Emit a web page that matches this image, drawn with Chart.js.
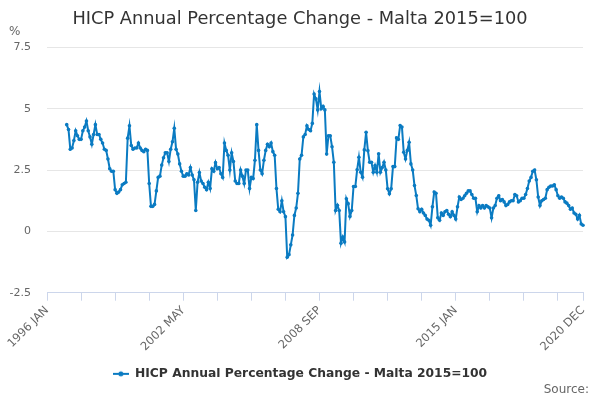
<!DOCTYPE html>
<html>
<head>
<meta charset="utf-8">
<title>HICP Annual Percentage Change - Malta 2015=100</title>
<script src="https://cdn.jsdelivr.net/npm/chart.js@4/dist/chart.umd.min.js"></script>
<style>
  html, body { margin: 0; padding: 0; background: #fff; }
</style>
</head>
<body>
<canvas id="chart" width="600" height="400"></canvas>
<script>
// monthly categories, 1996 JAN .. 2020 DEC
const years = []
for (let y = 1996; y <= 2020; y++) years.push(y)
const monthNames = ['JAN', 'FEB', 'MAR', 'APR', 'MAY', 'JUN', 'JUL', 'AUG', 'SEP', 'OCT', 'NOV', 'DEC']
const labels = []
years.forEach(y => monthNames.forEach(m => labels.push(`${y} ${m}`)))

// annual % change, one row per year
const values = [
  null, null, null, null, null, null, null, null, null, null, null, 4.35,
  4.15, 3.35, 3.4, 3.7, 4.1, 3.9, 3.75, 3.75, 4.1, 4.25, 4.5, 4.1,
  3.85, 3.55, 3.95, 4.35, 3.95, 3.95, 3.75, 3.6, 3.35, 3.3, 2.95, 2.55,
  2.45, 2.45, 1.7, 1.55, 1.6, 1.7, 1.9, 1.95, 2.0, 3.8, 4.3, 3.5,
  3.35, 3.4, 3.4, 3.6, 3.4, 3.3, 3.25, 3.35, 3.3, 1.95, 1.02, 1.02,
  1.1, 1.65, 2.2, 2.25, 2.7, 3.0, 3.2, 3.2, 2.85, 3.35, 3.65, 4.2,
  3.35, 3.15, 2.75, 2.45, 2.25, 2.25, 2.35, 2.3, 2.6, 2.3, 2.1, 0.85,
  2.0, 2.4, 2.05, 1.95, 1.8, 1.7, 2.0, 1.75, 2.55, 2.45, 2.8, 2.55,
  2.6, 2.35, 2.2, 3.6, 3.3, 3.1, 2.5, 3.2, 2.85, 2.05, 1.95, 1.95,
  2.5, 2.25, 1.95, 2.5, 2.5, 1.75, 2.2, 2.15, 2.9, 4.35, 3.3, 2.5,
  2.35, 2.9, 3.3, 3.55, 3.45, 3.6, 3.25, 3.1, 1.75, 0.9, 0.8, 1.25,
  0.8, 0.6, -1.05, -0.95, -0.55, -0.15, 0.65, 0.95, 1.55, 2.95, 3.1, 3.85,
  3.95, 4.3, 4.15, 4.1, 4.4, 5.6, 5.4, 4.95, 5.7, 5.0, 5.1, 4.95,
  3.15, 3.9, 3.9, 3.45, 2.82, 0.85, 1.06, 0.85, -0.48, -0.23, -0.43, 1.33,
  1.13, 0.61, 0.85, 1.83, 1.83, 2.51, 3.02, 2.41, 2.21, 3.32, 4.04, 3.29,
  2.82, 2.82, 2.41, 2.68, 2.41, 3.16, 2.41, 2.6, 2.82, 2.5, 1.74, 1.53,
  1.74, 2.64, 2.64, 3.81, 3.75, 4.31, 4.25, 3.22, 2.95, 3.3, 3.63, 2.75,
  2.5, 1.87, 1.46, 0.92, 0.8, 0.9, 0.75, 0.65, 0.5, 0.45, 0.25, 1.0,
  1.6, 1.55, 0.55, 0.45, 0.75, 0.65, 0.8, 0.85, 0.7, 0.6, 0.8, 0.65,
  0.5, 1.0, 1.4, 1.3, 1.35, 1.45, 1.55, 1.65, 1.65, 1.5, 1.35, 1.35,
  0.8, 1.05, 0.95, 1.05, 0.95, 1.05, 1.0, 0.95, 0.55, 0.95, 1.05, 1.35,
  1.45, 1.25, 1.3, 1.2, 1.05, 1.1, 1.2, 1.25, 1.25, 1.5, 1.45, 1.2,
  1.25, 1.35, 1.35, 1.5, 1.75, 2.05, 2.2, 2.45, 2.5, 2.1, 1.4, 1.05,
  1.25, 1.3, 1.35, 1.7, 1.8, 1.85, 1.85, 1.9, 1.7, 1.45, 1.35, 1.4,
  1.35, 1.2, 1.15, 1.05, 0.9, 0.95, 0.75, 0.7, 0.5, 0.65, 0.3, 0.25
]

const seriesName = 'HICP Annual Percentage Change - Malta 2015=100'
const lineColor = '#0a7bc2'

Chart.defaults.font.family = '"DejaVu Sans", sans-serif'

// legend symbol: short line with a dot, like the reference
const legendIcon = document.createElement('canvas')
legendIcon.width = 16
legendIcon.height = 8
{
  const c = legendIcon.getContext('2d')
  c.strokeStyle = lineColor
  c.lineWidth = 2
  c.beginPath()
  c.moveTo(0, 4)
  c.lineTo(16, 4)
  c.stroke()
  c.fillStyle = lineColor
  c.beginPath()
  c.arc(8, 4, 2.5, 0, Math.PI * 2)
  c.fill()
}

// "%" unit above the value axis and the "Source:" credit bottom right
const extraText = {
  id: 'extraText',
  afterDraw(chart) {
    const ctx = chart.ctx
    ctx.save()
    ctx.fillStyle = '#666'
    ctx.textBaseline = 'middle'
    ctx.font = '12px "DejaVu Sans", sans-serif'
    ctx.textAlign = 'left'
    ctx.fillText('%', 9, 32)
    ctx.textAlign = 'right'
    ctx.fillText('Source:', 589, 390)
    ctx.restore()
  }
}

new Chart(document.getElementById('chart'), {
  type: 'line',
  data: {
    labels: labels,
    datasets: [{
      label: seriesName,
      data: values,
      borderColor: lineColor,
      backgroundColor: lineColor,
      borderWidth: 2,
      pointRadius: 1.8,
      pointBorderWidth: 0,
      tension: 0
    }]
  },
  options: {
    responsive: false,
    animation: false,
    layout: { padding: { left: 0, right: 0, top: 0, bottom: 10 } },
    plugins: {
      title: {
        display: true,
        text: seriesName,
        color: '#333',
        font: { size: 17.8, weight: 'normal' },
        padding: { top: 9, bottom: 17 }
      },
      legend: {
        position: 'bottom',
        labels: {
          usePointStyle: true,
          pointStyleWidth: 16,
          color: '#333',
          font: { size: 12.3, weight: 'bold' },
          padding: 3,
          generateLabels(chart) {
            const items = Chart.defaults.plugins.legend.labels.generateLabels(chart)
            items.forEach(item => { item.pointStyle = legendIcon })
            return items
          }
        }
      },
      tooltip: { enabled: false }
    },
    scales: {
      x: {
        grid: { drawOnChartArea: false, color: '#ccd6eb', tickLength: 8 },
        border: { color: '#ccd6eb' },
        ticks: {
          autoSkip: false,
          minRotation: 45,
          maxRotation: 45,
          color: '#666',
          font: { size: 11.5 },
          callback(value, i) {
            if (i % 76 === 0 || i === labels.length - 1) return labels[i]
            if (i % 19 === 0) return ''
            return null
          }
        },
        afterFit(scale) { scale.height = 72 }
      },
      y: {
        min: -2.5,
        max: 7.5,
        ticks: { stepSize: 2.5, color: '#666', font: { size: 11 }, padding: 16 },
        grid: { color: '#e6e6e6', drawTicks: false },
        border: { display: false },
        afterFit(scale) { scale.width = 47 }
      },
      // empty right-hand axis, only keeps a 17px margin so the title stays centred
      spacer: {
        position: 'right',
        ticks: { display: false },
        grid: { display: false },
        border: { display: false },
        afterFit(scale) { scale.width = 17 }
      }
    }
  },
  plugins: [extraText]
})
</script>
</body>
</html>
